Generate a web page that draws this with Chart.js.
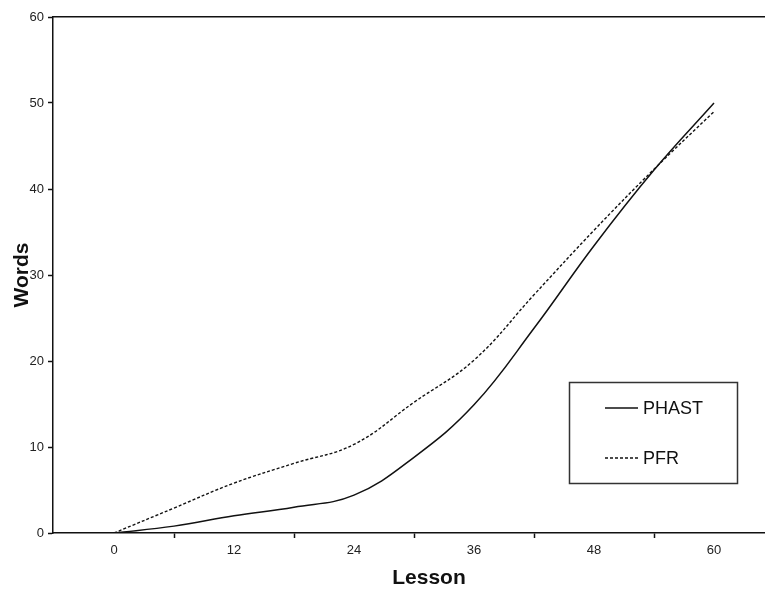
<!DOCTYPE html>
<html>
<head>
<meta charset="utf-8">
<script src="https://cdn.jsdelivr.net/npm/chart.js@4/dist/chart.umd.min.js"></script>
<style>
  html, body { margin: 0; padding: 0; background: #fff; overflow: hidden; }
  canvas { display: block; }
</style>
</head>
<body>
<canvas id="myChart" width="805" height="591"></canvas>
<script>
// values
const lessons = [0, 6, 12, 18, 24, 30, 36, 42, 48, 54, 60];
const phast = [0, 0.8, 2.0, 3.0, 4.4, 8.8, 14.9, 23.8, 33.4, 42.2, 50];
const pfr = [0, 2.9, 5.8, 8.1, 10.3, 15.2, 20.1, 27.7, 35.2, 42.3, 49];
const lessonLabels = [0, 12, 24, 36, 48, 60];
const wordTicks = [0, 10, 20, 30, 40, 50, 60];

const ink = '#111';
const font = 'Liberation Sans, Arial, sans-serif';

// legend box sits inside the plot, drawn by hand
const boxLegend = {
  id: 'boxLegend',
  afterDraw(chart) {
    const c = chart.ctx;
    c.save();
    c.strokeStyle = '#333';
    c.lineWidth = 1.5;
    c.strokeRect(569.5, 382.5, 168, 101);
    chart.data.datasets.forEach((ds, i) => {
      const y = 408 + i * 50;
      c.beginPath();
      c.lineWidth = ds.borderWidth;
      c.strokeStyle = ink;
      c.setLineDash(ds.borderDash || []);
      c.moveTo(605, y);
      c.lineTo(638, y);
      c.stroke();
      c.setLineDash([]);
      c.fillStyle = ink;
      c.font = '18px ' + font;
      c.textBaseline = 'middle';
      c.fillText(ds.label, 643, y + 1);
    });
    c.restore();
  }
};

new Chart(document.getElementById('myChart'), {
  type: 'line',
  data: {
    datasets: [
      {
        label: 'PHAST',
        data: lessons.map((l, i) => ({ x: l, y: phast[i] })),
        borderColor: ink,
        borderWidth: 1.5,
        pointRadius: 0,
        tension: 0.4,
        fill: false
      },
      {
        label: 'PFR',
        data: lessons.map((l, i) => ({ x: l, y: pfr[i] })),
        borderColor: ink,
        borderWidth: 1.4,
        borderDash: [3, 2],
        pointRadius: 0,
        tension: 0.4,
        fill: false
      }
    ]
  },
  options: {
    responsive: false,
    animation: false,
    layout: { padding: 0 },
    plugins: {
      legend: { display: false },
      tooltip: { enabled: false }
    },
    scales: {
      x: {
        type: 'linear',
        min: -6.1,
        max: 69.1,
        afterBuildTicks(scale) {
          const mids = lessonLabels.slice(0, -1).map(v => v + 6);
          scale.ticks = lessonLabels.concat(mids).sort((a, b) => a - b).map(v => ({ value: v }));
        },
        afterFit(scale) { scale.height = 58; },
        border: { color: ink, width: 1.5 },
        grid: {
          drawOnChartArea: false,
          drawTicks: true,
          tickLength: 5,
          tickWidth: 1.5,
          tickColor: (ctx) => (ctx.tick && lessonLabels.includes(ctx.tick.value)) ? 'rgba(0,0,0,0)' : ink
        },
        ticks: {
          color: '#222',
          font: { family: font, size: 13 },
          padding: 5,
          maxRotation: 0,
          autoSkip: false,
          callback: (v) => lessonLabels.includes(v) ? String(v) : ''
        },
        title: {
          display: true,
          text: 'Lesson',
          color: ink,
          font: { family: font, size: 21, weight: 'bold' },
          padding: { top: 6, bottom: 0 }
        }
      },
      x2: {
        type: 'linear',
        position: 'top',
        min: -6.1,
        max: 69.1,
        afterFit(scale) { scale.height = 17; },
        border: { color: ink, width: 1.5 },
        grid: { display: false },
        ticks: { display: false }
      },
      y: {
        min: 0,
        max: 60,
        afterBuildTicks(scale) {
          scale.ticks = wordTicks.map(v => ({ value: v }));
        },
        afterFit(scale) { scale.width = 53; },
        border: { color: ink, width: 1.5 },
        grid: {
          drawOnChartArea: false,
          drawTicks: true,
          tickLength: 5,
          tickWidth: 1.5,
          tickColor: ink
        },
        ticks: {
          color: '#222',
          font: { family: font, size: 13 },
          padding: 4
        },
        title: {
          display: true,
          text: 'Words',
          color: ink,
          font: { family: font, size: 21, weight: 'bold' },
          padding: { top: 10, bottom: 0 }
        }
      }
    }
  },
  plugins: [boxLegend]
});
</script>
</body>
</html>
